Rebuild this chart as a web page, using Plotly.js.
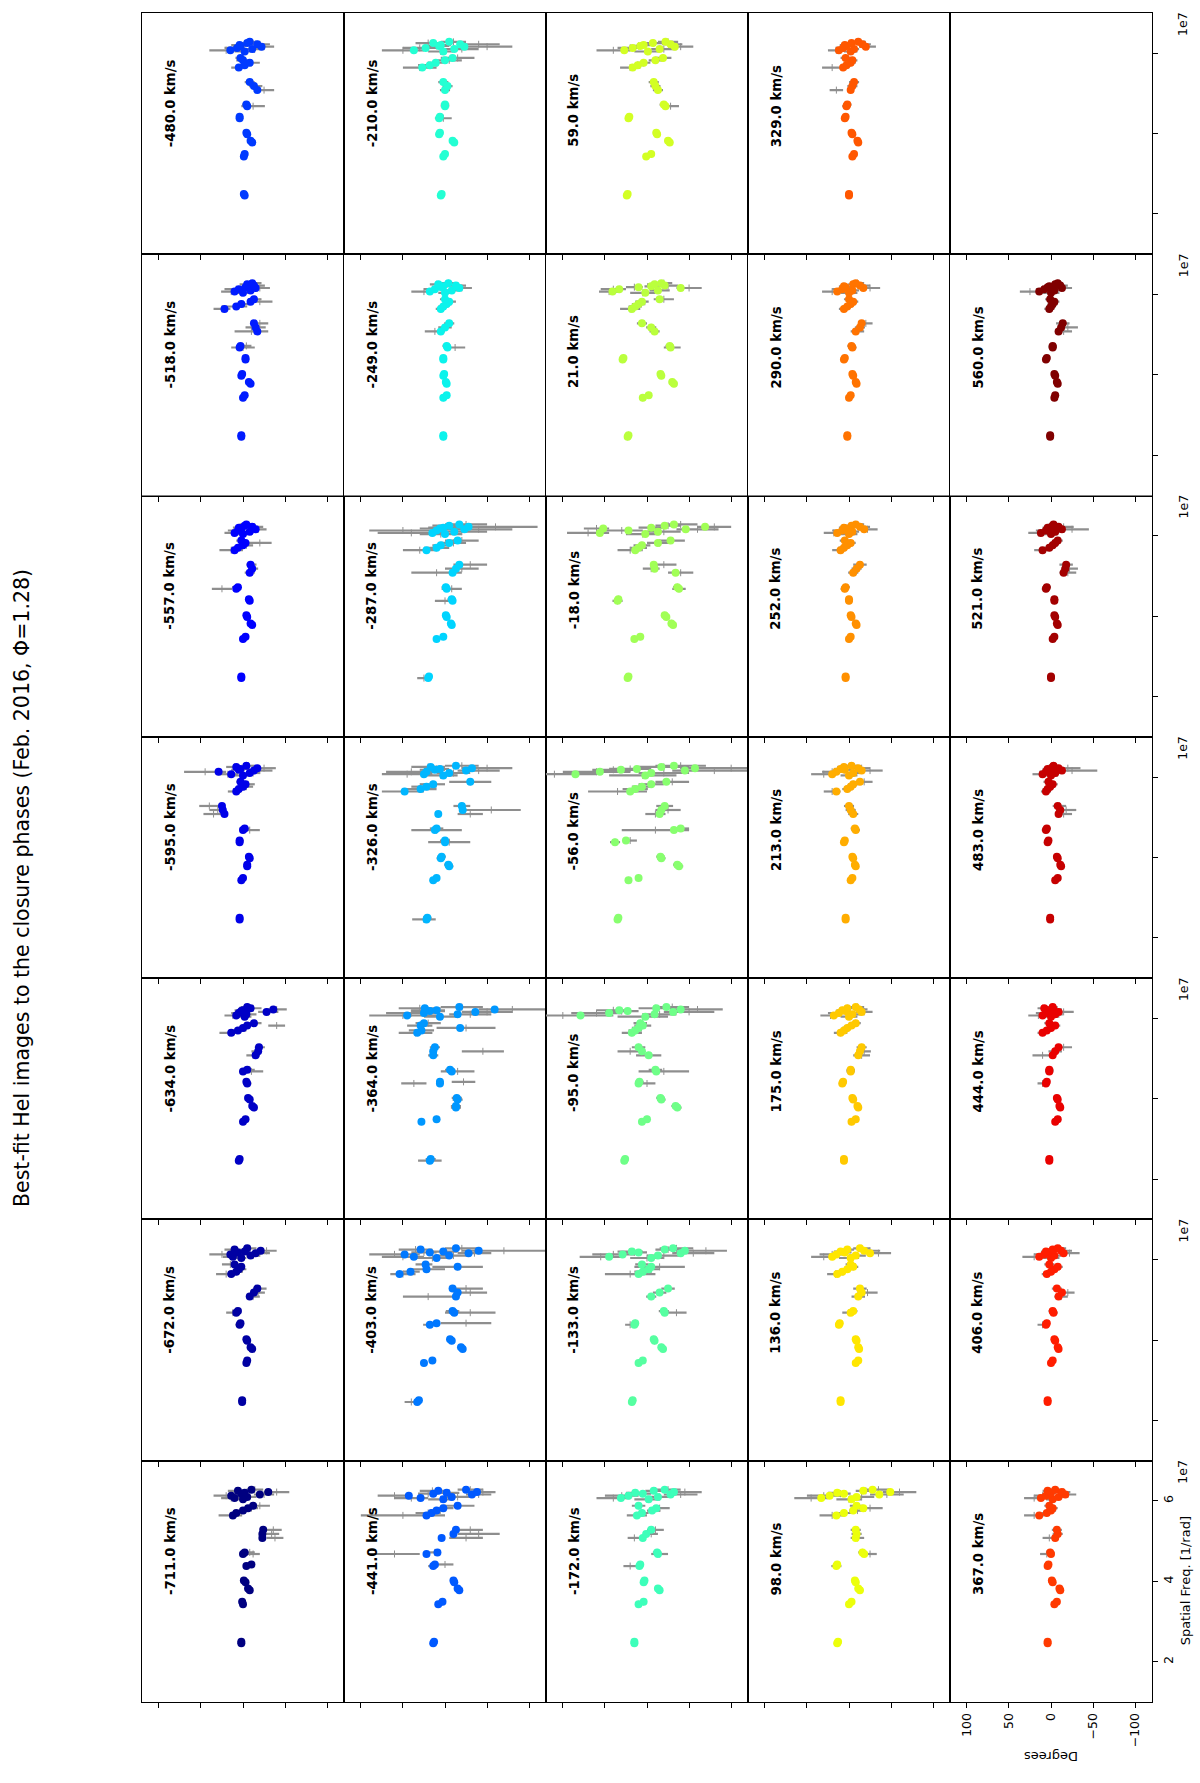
<!DOCTYPE html>
<html><head><meta charset="utf-8">
<script src="https://cdn.plot.ly/plotly-3.0.1.min.js"></script>
<style>html,body{margin:0;padding:0;background:#fff}#chart{width:1200px;height:1783px}</style>
</head><body><div id="chart"></div>
<script>
// velocity channels (km/s), row-major order of the original 5x7 grid
const VELOCITIES = [-711,-672,-634,-595,-557,-518,-480,-441,-403,-364,-326,-287,-249,-210,-172,-133,-95,-56,-18,21,59,98,136,175,213,252,290,329,367,406,444,483,521,560];
// spatial frequency of each closure-phase point (units of 1e7 1/rad)
const FREQ = [2.46,2.50, 3.43,3.49, 3.78,3.82,3.98,4.02, 4.38,4.42, 4.68,4.72, 5.08,5.18,5.28, 5.64,5.70,5.76,5.82,5.88, 6.04,6.07,6.10,6.13,6.16,6.18,6.20,6.22,6.25,6.28];
const FREQ_TICKS = [2,4,6];
const DEG_TICKS = [100,50,0,-50,-100];

// m_* = model closure phase (deg), d_* = observed closure phase (deg), e_* = observed error (deg)
const m_n711=[2,2,0,1,-8,-6,-3,-1,-4,-10,0,-2,-23,-23,-24,12,8,0,-6,-12,0,10,-5,14,-20,2,-2,-30,6,-10];
const d_n711=[3,1,1,0,-7,-6,-4,-1,-5,-9,-12,-8,-38,-34,-36,15,5,-2,-10,-20,2,14,-8,20,-25,4,0,-40,8,-14];
const e_n711=[3,3,2,2,3,3,3,3,4,3,8,6,10,9,10,14,8,6,8,12,8,12,8,15,12,6,6,15,10,10];
const m_n672=[1,1,-4,-5,-11,-9,-5,-4,4,3,8,6,-8,-13,-17,14,8,5,2,10,2,12,-9,15,-15,6,-2,-21,10,-5];
const d_n672=[2,1,-4,-5,-11,-9,-5,-4,5,3,12,8,-12,-18,-20,20,8,2,4,15,4,14,-12,25,-20,8,0,-28,12,-8];
const e_n672=[3,3,2,2,3,3,3,3,4,3,8,5,8,8,8,12,8,6,6,10,8,10,8,15,12,8,6,12,10,8];
const m_n634=[5,4,0,-3,-13,-11,-8,-6,-5,-4,0,-5,-15,-18,-19,14,6,0,-5,-13,-2,8,-4,5,-28,2,0,-36,-9,-5];
const d_n634=[5,4,1,-3,-13,-11,-8,-6,-6,-4,-10,-8,-12,-16,-20,16,4,-2,-40,-14,0,12,-8,6,-30,0,4,-40,-12,-5];
const e_n634=[2,2,2,2,3,3,3,3,4,3,14,6,8,6,6,12,8,6,10,8,10,10,8,8,12,6,6,12,10,8];
const m_n595=[4,4,2,0,-5,-5,-8,-7,4,4,0,-2,22,24,25,8,5,0,-3,3,0,14,-8,29,-13,5,3,-17,8,-4];
const d_n595=[4,4,2,0,-5,-5,-8,-7,4,3,-8,-2,35,30,40,10,4,-4,-6,2,2,18,-12,45,-20,6,0,-25,10,-6];
const e_n595=[2,2,2,2,3,3,3,3,4,4,12,6,12,10,12,8,8,8,8,6,10,12,8,25,15,8,8,14,10,8];
const m_n557=[2,2,0,-3,-11,-9,-5,-4,-8,-7,8,6,-8,-11,-9,10,6,0,-3,2,0,10,-8,6,-15,2,5,-11,-2,-4];
const d_n557=[2,2,0,-3,-11,-9,-5,-4,-8,-7,25,8,-8,-12,-10,14,6,-4,-20,2,2,12,-10,8,-18,2,6,-14,-2,-4];
const e_n557=[2,2,2,2,3,3,3,3,3,3,12,5,6,6,6,14,8,8,14,6,8,10,8,10,10,6,6,10,8,8];
const m_n518=[2,2,0,-2,-9,-7,2,1,-3,-3,4,3,-17,-15,-13,22,8,2,-9,-13,0,10,-9,5,-15,-3,-7,-13,-5,-11];
const d_n518=[2,2,0,-2,-9,-7,2,1,-3,-3,0,-4,-10,-15,-20,25,10,0,-20,-14,2,14,-10,8,-20,0,-8,-16,-4,-12];
const e_n518=[2,2,2,2,3,3,3,3,3,3,14,6,20,12,10,10,15,8,15,8,12,12,8,14,12,8,8,10,8,10];
const m_n480=[-2,-1,-1,-2,-11,-9,-5,-4,4,4,-5,-4,-17,-13,-8,5,-2,-8,0,3,-2,15,-11,7,-22,3,4,-17,-5,-8];
const d_n480=[-2,-1,-1,-2,-11,-9,-5,-4,4,4,-12,-4,-25,-15,-8,6,-2,-10,0,3,0,20,-14,10,-25,4,6,-20,-6,-10];
const e_n480=[2,2,2,2,3,3,3,3,3,3,14,5,12,8,6,8,8,10,8,6,10,20,10,12,12,8,8,12,8,8];
const m_n441=[14,13,8,3,-17,-15,-11,-10,14,12,22,9,4,-10,-13,22,16,10,2,-15,2,29,-8,43,-32,14,-2,-38,8,-25];
const d_n441=[14,13,8,3,-17,-15,-11,-10,14,0,60,12,-25,-40,-30,50,20,10,0,-15,5,40,-15,60,-40,20,-5,-45,15,-30];
const e_n441=[3,3,3,3,4,4,4,4,6,10,30,6,20,25,15,50,15,8,10,20,15,20,15,20,15,12,12,15,15,15];
const m_n403=[33,31,25,15,-21,-19,-8,-6,18,10,-11,-9,-13,-15,-9,54,41,22,-15,23,10,37,-5,48,-28,18,2,-40,29,-13];
const d_n403=[40,32,25,15,-21,-19,-8,-6,18,-25,-30,-9,20,-30,-25,50,40,20,-15,25,15,50,-10,60,-35,25,0,-70,35,-20];
const e_n403=[8,4,4,4,4,4,4,4,8,30,30,8,30,20,20,15,10,20,30,10,20,25,20,30,20,15,15,50,20,20];
const m_n364=[18,17,28,10,-13,-13,-15,-14,6,6,-8,-6,14,14,12,33,28,-18,29,25,6,45,-15,25,-36,18,10,-59,24,-17];
const d_n364=[18,17,28,10,-13,-13,-15,-14,37,-22,-15,-6,14,-45,12,35,28,-25,30,20,5,50,-30,40,-50,20,20,-80,30,-20];
const e_n364=[14,6,4,4,6,6,6,6,15,14,20,6,6,25,6,20,15,35,15,15,20,40,25,30,30,20,20,40,25,25];
const m_n326=[22,21,14,10,-5,-4,5,4,0,0,12,10,8,-21,-20,48,29,22,14,-30,2,25,-5,22,-25,12,6,-32,17,-13];
const d_n326=[25,21,14,10,-5,-4,5,4,-5,0,10,10,-30,-55,-20,50,30,25,15,-30,5,45,-10,40,-40,15,10,-50,20,-20];
const e_n326=[14,5,4,4,5,5,5,5,25,6,30,8,15,35,10,25,20,15,15,25,20,30,20,30,25,15,15,30,20,20];
const m_n287=[20,19,10,2,-8,-7,-2,-1,-9,-8,-2,-1,-9,-13,-17,22,10,5,-5,-15,0,15,-11,10,-23,6,2,-28,-5,-17];
const d_n287=[25,19,10,2,-8,-7,-2,-1,0,-8,-8,-1,10,-20,-30,30,10,5,-10,-20,5,40,-20,50,-40,10,0,-60,-5,-25];
const e_n287=[8,4,4,4,4,4,4,4,12,5,12,5,30,20,20,20,15,10,15,20,25,40,30,40,40,20,20,50,20,25];
const m_n249=[2,2,2,-2,-2,-1,2,1,2,2,-3,-2,5,0,-5,5,2,-2,-5,0,0,18,-8,12,-17,4,2,-13,8,-4];
const d_n249=[2,2,2,-2,-2,-1,2,1,2,2,-12,-2,12,0,-5,5,2,-2,-5,0,0,25,-10,15,-20,5,2,-15,10,-4];
const e_n249=[3,3,3,3,3,3,3,3,3,3,12,5,12,8,6,6,6,6,8,6,8,15,8,10,12,6,6,10,8,8];
const m_n210=[5,4,2,0,-11,-9,7,6,7,6,0,0,0,-3,2,27,18,11,0,-9,2,37,-11,23,-23,7,5,-18,14,-5];
const d_n210=[5,4,2,0,-11,-9,7,6,2,6,0,0,0,-3,2,30,20,10,-5,-15,5,50,-20,30,-50,10,5,-40,20,-10];
const e_n210=[3,3,3,3,4,4,4,4,10,4,5,5,6,6,6,20,12,10,15,20,15,25,20,20,30,15,12,25,15,15];
const m_n172=[15,15,10,4,-15,-13,4,3,9,8,-13,-12,5,1,-5,12,6,-6,-11,10,-2,31,-13,22,-28,5,14,-32,-8,-21];
const d_n172=[15,15,10,4,-15,-13,4,3,20,8,-15,-12,15,-5,-10,12,6,-8,-15,10,0,40,-15,30,-40,5,15,-45,-10,-25];
const e_n172=[3,3,3,3,4,4,4,4,8,4,10,5,8,8,10,12,8,8,12,8,15,20,15,20,20,10,10,20,12,15];
const m_n133=[18,17,10,5,-19,-17,-9,-8,15,14,-21,-20,-5,-15,-25,10,5,-2,-5,6,-5,45,-13,29,-40,10,18,-45,-21,-31];
const d_n133=[18,17,10,5,-19,-17,-9,-8,20,14,-35,-20,-5,-15,-25,20,5,-5,-15,6,0,55,-20,40,-55,15,20,-70,-25,-35];
const e_n133=[4,4,3,3,4,4,4,4,6,4,12,6,6,8,8,30,10,10,30,8,20,25,20,25,25,15,15,25,15,20];
const m_n95=[27,26,6,0,-36,-34,-17,-16,10,9,-11,-10,-2,6,10,18,14,10,5,8,2,79,-9,45,-31,23,33,-40,-11,-23];
const d_n95=[27,26,6,0,-36,-34,-17,-16,0,9,-20,-10,-2,20,10,18,14,10,5,8,5,100,-15,60,-50,30,40,-60,-10,-30];
const e_n95=[4,4,3,3,5,5,5,5,10,5,30,8,15,15,8,12,8,8,10,8,30,60,20,30,30,20,20,30,20,20];
const m_n56=[35,34,22,10,-38,-36,-17,-16,38,25,-32,-40,-15,-17,-21,20,14,6,-5,-23,2,85,-5,56,-45,31,12,-57,-17,-32];
const d_n56=[35,34,22,10,-38,-36,-17,-16,38,20,-10,-40,-10,-25,-21,35,14,6,-5,-30,5,110,-20,60,-80,40,20,-100,-20,-40];
const e_n56=[4,4,4,4,5,5,5,5,6,8,40,10,12,15,10,35,15,12,15,20,40,50,30,40,50,25,25,60,30,30];
const m_n18=[23,22,15,8,-31,-29,-23,-21,35,34,-38,-36,-34,-9,-8,14,10,6,-13,-28,2,56,-13,22,-46,52,-5,-69,-21,-32];
const d_n18=[23,22,15,8,-31,-29,-23,-21,35,34,-38,-36,-40,-5,-20,20,10,6,-15,-30,5,70,-20,30,-60,60,-5,-80,-25,-40];
const e_n18=[3,3,3,3,4,4,4,4,6,4,8,5,15,10,15,15,10,10,15,15,20,25,20,25,25,15,15,20,15,20];
const m_p21=[23,22,5,-2,-32,-30,-17,-16,29,28,-28,-27,-9,-5,6,18,14,10,6,-15,2,41,-13,33,-40,10,-5,-21,-9,-17];
const d_p21=[23,22,5,-2,-32,-30,-17,-16,29,28,-30,-27,-9,-5,6,20,14,10,6,-20,5,45,-15,40,-50,15,-5,-25,-10,-20];
const e_p21=[3,3,3,3,4,4,4,4,4,4,10,5,6,6,6,12,8,8,8,12,15,12,12,15,15,10,8,12,10,10];
const m_p59=[24,23,1,-5,-27,-25,-12,-11,22,21,-22,-20,-13,-10,-8,17,11,4,-10,-19,-1,27,-15,17,-33,8,4,-28,-7,-22];
const d_p59=[24,23,1,-5,-27,-25,-12,-11,22,21,-28,-20,-13,-10,-8,20,11,4,-10,-19,0,40,-20,20,-40,10,4,-30,-8,-25];
const e_p59=[3,3,3,3,4,4,4,4,4,4,10,5,6,6,6,12,8,8,8,10,15,20,15,15,15,10,8,12,10,12];
const m_p98=[14,13,0,-3,-13,-11,-8,-7,15,14,-18,-16,-8,-9,-8,15,6,-5,-17,-9,-3,33,-9,23,-36,6,14,-49,-17,-28];
const d_p98=[14,13,0,-3,-13,-11,-8,-7,15,14,-25,-16,-10,-9,-8,20,6,-10,-25,-9,0,45,-15,30,-45,10,15,-60,-20,-35];
const e_p98=[4,4,3,3,4,4,4,4,6,4,8,5,8,6,6,15,10,10,15,8,15,20,15,20,20,12,10,20,12,15];
const m_p136=[10,10,-8,-11,-12,-11,-9,-8,12,11,-2,-5,-11,-15,-13,14,8,2,-5,-2,-2,20,-8,15,-25,5,10,-18,2,-13];
const d_p136=[10,10,-8,-11,-12,-11,-9,-8,12,11,0,-5,-11,-22,-13,16,8,2,-5,-2,0,30,-10,20,-35,5,10,-25,2,-15];
const e_p136=[4,4,3,3,4,4,4,4,4,4,8,5,8,12,8,10,8,6,6,6,12,15,10,15,15,8,8,12,8,10];
const m_p175=[6,6,-3,-8,-11,-10,-5,-4,8,7,-2,-2,-11,-13,-15,10,6,2,-3,-8,0,18,-4,12,-15,4,8,-12,2,-8];
const d_p175=[6,6,-3,-8,-11,-10,-5,-4,8,7,-2,-2,-15,-18,-15,10,6,2,-3,-8,0,22,-6,15,-18,4,8,-14,2,-10];
const e_p175=[3,3,3,3,3,3,3,3,4,4,5,5,10,8,6,8,6,6,6,6,10,12,8,10,10,6,6,8,6,8];
const m_p213=[4,4,-2,-4,-8,-7,-5,-4,6,5,-8,-7,-5,-2,0,15,2,-2,-5,-13,0,20,-5,15,-15,5,10,-11,6,-3];
const d_p213=[4,4,-2,-4,-8,-7,-5,-4,6,5,-8,-7,-5,-2,0,20,2,-2,-5,-18,0,30,-5,20,-25,5,10,-15,6,-3];
const e_p213=[3,3,3,3,3,3,3,3,4,4,5,5,6,6,6,10,6,6,6,10,10,15,8,12,15,8,8,10,8,8];
const m_p252=[4,4,0,-2,-9,-8,-3,-2,0,0,5,4,-5,-9,-13,10,6,2,-2,5,0,14,-4,8,-18,4,6,-13,-3,-8];
const d_p252=[4,4,0,-2,-9,-8,-3,-2,0,0,5,4,-5,-9,-13,12,6,2,-2,5,0,18,-4,10,-22,4,6,-15,-3,-10];
const e_p252=[3,3,3,3,3,3,3,3,4,4,5,5,6,6,8,8,6,6,6,6,10,12,8,10,12,6,6,10,6,8];
const m_p290=[2,2,0,-2,-9,-8,-5,-4,6,5,-4,-3,-8,-13,-15,6,2,-2,-5,0,0,14,-4,8,-17,4,6,-13,-5,-8];
const d_p290=[2,2,0,-2,-9,-8,-5,-4,6,5,-4,-3,-10,-13,-20,6,2,-2,-5,0,0,20,-4,10,-25,4,6,-15,-5,-10];
const e_p290=[3,3,3,3,3,3,3,3,4,4,5,5,8,6,8,6,6,6,6,6,10,12,8,10,12,6,6,10,6,8];
const m_p329=[0,0,-4,-6,-11,-10,-4,-3,5,4,3,2,-2,-4,-6,7,3,-2,-4,4,-2,12,-6,7,-20,3,5,-16,-3,-11];
const d_p329=[0,0,-4,-6,-11,-10,-4,-3,5,4,3,2,15,-4,-6,20,3,-2,-4,4,-2,15,-6,8,-22,3,5,-18,-3,-12];
const e_p329=[3,3,3,3,3,3,3,3,4,4,5,5,8,6,6,12,6,6,6,6,8,10,6,8,10,6,6,8,6,8];
const m_p367=[4,4,-4,-7,-11,-10,-2,-1,4,3,0,1,-5,-8,-7,14,5,0,-2,2,-2,12,-9,6,-17,2,0,-13,4,-5];
const d_p367=[4,4,-4,-7,-11,-10,-2,-1,4,3,5,1,2,-8,-7,20,5,0,-2,2,-2,20,-9,10,-20,2,0,-15,4,-5];
const e_p367=[2,2,2,2,3,3,3,3,4,4,8,5,8,6,6,12,6,6,6,6,8,12,6,10,10,6,6,8,6,6];
const m_p406=[4,4,0,-2,-9,-8,-5,-4,6,5,-3,-2,-9,-13,-7,5,0,-4,-8,2,0,14,-4,8,-15,4,6,-12,-2,-8];
const d_p406=[4,4,0,-2,-9,-8,-5,-4,10,5,-3,-2,-12,-20,-7,5,0,-4,-8,2,0,20,-4,10,-22,4,6,-15,-2,-10];
const e_p406=[2,2,2,2,3,3,3,3,6,4,5,5,8,8,6,6,6,6,6,6,10,14,8,10,12,6,6,10,6,8];
const m_p444=[2,2,-5,-8,-11,-10,-8,-7,6,5,2,2,-2,-5,-9,10,5,0,-5,2,0,10,-5,6,-9,2,4,-3,8,-2];
const d_p444=[2,2,-5,-8,-11,-10,-8,-7,10,5,2,2,10,-5,-15,10,5,0,-5,2,0,15,-6,8,-15,2,4,-5,10,-2];
const e_p444=[2,2,2,2,3,3,3,3,6,4,5,5,12,8,10,6,6,6,6,6,10,12,8,10,12,6,6,8,6,6];
const m_p483=[1,1,-5,-8,-12,-11,-8,-7,4,3,6,5,-9,-11,-8,6,4,1,-2,3,0,10,-5,6,-13,2,4,-9,-2,-3];
const d_p483=[1,1,-5,-8,-12,-11,-8,-7,4,3,6,5,-15,-18,-10,6,4,1,-2,3,0,12,-8,6,-25,2,4,-20,-2,-3];
const e_p483=[2,2,2,2,3,3,3,3,4,4,5,5,10,12,8,6,6,6,6,6,8,10,8,8,30,6,6,15,6,6];
const m_p521=[0,0,-2,-4,-8,-7,-5,-4,-4,-4,6,5,-15,-17,-18,10,2,-2,-5,-8,0,12,-5,6,-13,2,4,-9,-2,-3];
const d_p521=[0,0,-2,-4,-8,-7,-5,-4,-4,-4,6,5,-20,-22,-18,12,2,-2,-5,-8,0,15,-8,8,-25,2,4,-15,-2,-3];
const e_p521=[2,2,2,2,3,3,3,3,4,4,5,5,10,10,8,8,6,6,6,6,8,12,8,10,20,6,6,12,6,6];
const m_p560=[1,1,-4,-5,-8,-7,-5,-4,6,5,-2,-2,-9,-12,-14,2,0,-2,-4,1,0,14,-4,8,-13,4,2,-11,-5,-8];
const d_p560=[1,1,-4,-5,-8,-7,-5,-4,6,5,-2,-2,-15,-20,-14,2,0,-2,-4,1,0,25,-4,10,-15,4,2,-12,-5,-8];
const e_p560=[2,2,2,2,3,3,3,3,4,4,5,5,10,12,8,6,6,6,6,6,10,12,6,8,10,6,6,8,6,6];

const MODEL=[m_n711,m_n672,m_n634,m_n595,m_n557,m_n518,m_n480,m_n441,m_n403,m_n364,m_n326,m_n287,m_n249,m_n210,m_n172,m_n133,m_n95,m_n56,m_n18,m_p21,m_p59,m_p98,m_p136,m_p175,m_p213,m_p252,m_p290,m_p329,m_p367,m_p406,m_p444,m_p483,m_p521,m_p560];
const DATA=[d_n711,d_n672,d_n634,d_n595,d_n557,d_n518,d_n480,d_n441,d_n403,d_n364,d_n326,d_n287,d_n249,d_n210,d_n172,d_n133,d_n95,d_n56,d_n18,d_p21,d_p59,d_p98,d_p136,d_p175,d_p213,d_p252,d_p290,d_p329,d_p367,d_p406,d_p444,d_p483,d_p521,d_p560];
const ERR=[e_n711,e_n672,e_n634,e_n595,e_n557,e_n518,e_n480,e_n441,e_n403,e_n364,e_n326,e_n287,e_n249,e_n210,e_n172,e_n133,e_n95,e_n56,e_n18,e_p21,e_p59,e_p98,e_p136,e_p175,e_p213,e_p252,e_p290,e_p329,e_p367,e_p406,e_p444,e_p483,e_p521,e_p560];

// matplotlib "jet" colormap
function jet(t){
  const seg = {
    r:[[0,0],[0.35,0],[0.66,1],[0.89,1],[1,0.5]],
    g:[[0,0],[0.125,0],[0.375,1],[0.64,1],[0.91,0],[1,0]],
    b:[[0,0.5],[0.11,1],[0.34,1],[0.65,0],[1,0]]
  };
  function ch(s){
    for(let i=1;i<s.length;i++){
      if(t<=s[i][0]){const a=s[i-1],b=s[i];return a[1]+(b[1]-a[1])*(t-a[0])/(b[0]-a[0]);}
    }
    return s[s.length-1][1];
  }
  return 'rgb('+Math.round(255*ch(seg.r))+','+Math.round(255*ch(seg.g))+','+Math.round(255*ch(seg.b))+')';
}

const W=1200, H=1783;
const GX0=142, CW=202, GYB=1702, RH=241.3;
const FONT='DejaVu Sans, Arial, sans-serif';
const GRAY='#8e8e8e';
const traces=[], annotations=[];
const layout={width:W,height:H,margin:{l:0,r:0,t:0,b:0},paper_bgcolor:'#fff',plot_bgcolor:'#fff',showlegend:false,font:{family:FONT,color:'#000'},annotations:annotations};

for(let k=0;k<35;k++){
  const i=Math.floor(k/7), j=k%7, n=k+1;
  const x0=GX0+CW*i, x1=x0+CW, yb=GYB-RH*j, yt=yb-RH;
  const xa=n===1?'xaxis':'xaxis'+n, ya=n===1?'yaxis':'yaxis'+n;
  const xr=n===1?'x':'x'+n, yr=n===1?'y':'y'+n;
  const labelled=(k===28), rightCol=(i===4);
  layout[xa]={domain:[x0/W,x1/W],anchor:yr,range:[120,-120],tickmode:'array',tickvals:DEG_TICKS,
    ticks:'outside',ticklen:5,tickwidth:1,tickcolor:'#000',showticklabels:labelled,tickangle:-90,
    tickfont:{family:FONT,size:12.5,color:'#000'},showline:true,mirror:true,linecolor:'#000',linewidth:1,
    showgrid:false,zeroline:false,fixedrange:true};
  layout[ya]={domain:[1-yb/H,1-yt/H],anchor:xr,range:[1,7],side:'right',tickmode:'array',tickvals:FREQ_TICKS,
    ticks:rightCol?'outside':'',ticklen:5,tickwidth:1,tickcolor:'#000',showticklabels:labelled,tickangle:-90,
    tickfont:{family:FONT,size:12.5,color:'#000'},showline:true,mirror:true,linecolor:'#000',linewidth:1,
    showgrid:false,zeroline:false,fixedrange:true};
  if(rightCol){
    annotations.push({xref:'paper',yref:'paper',x:1183/W,y:1-(yt-3)/H,xanchor:'center',yanchor:'top',
      text:'1e7',textangle:-90,showarrow:false,font:{family:FONT,size:12.5,color:'#000'}});
  }
  if(k<34){
    const col=jet(k/33);
    traces.push({type:'scatter',mode:'markers',x:DATA[k],y:FREQ,xaxis:xr,yaxis:yr,hoverinfo:'skip',
      marker:{symbol:'line-ns-open',size:5,color:GRAY,line:{color:GRAY,width:1}},
      error_x:{type:'data',array:ERR[k],visible:true,color:GRAY,thickness:2.2,width:0}});
    traces.push({type:'scatter',mode:'markers',x:MODEL[k],y:FREQ,xaxis:xr,yaxis:yr,hoverinfo:'skip',
      marker:{symbol:'circle',size:8,color:col,line:{width:0}}});
    annotations.push({xref:'paper',yref:'paper',x:(x0+28)/W,y:1-(yb-105)/H,xanchor:'center',yanchor:'bottom',
      text:'<b>'+VELOCITIES[k].toFixed(1)+' km/s</b>',textangle:-90,showarrow:false,
      font:{family:FONT,size:13.3,color:'#000'}});
  } else {
    traces.push({type:'scatter',mode:'markers',x:[],y:[],xaxis:xr,yaxis:yr,hoverinfo:'skip'});
  }
}
annotations.push({xref:'paper',yref:'paper',x:1185/W,y:1-(GYB-RH/2)/H,xanchor:'center',yanchor:'middle',
  text:'Spatial Freq. [1/rad]',textangle:-90,showarrow:false,font:{family:FONT,size:13,color:'#000'}});
annotations.push({xref:'paper',yref:'paper',x:(GX0+CW*4.5)/W,y:1-1757/H,xanchor:'center',yanchor:'middle',
  text:'Degrees',textangle:180,showarrow:false,font:{family:FONT,size:13,color:'#000'}});
annotations.push({xref:'paper',yref:'paper',x:22/W,y:1-888/H,xanchor:'center',yanchor:'middle',
  text:'Best-fit HeI images to the closure phases (Feb. 2016, \u03A6=1.28)',textangle:-90,showarrow:false,
  font:{family:FONT,size:20.5,color:'#000'}});

Plotly.newPlot('chart',traces,layout,{staticPlot:true,displayModeBar:false});
</script></body></html>
